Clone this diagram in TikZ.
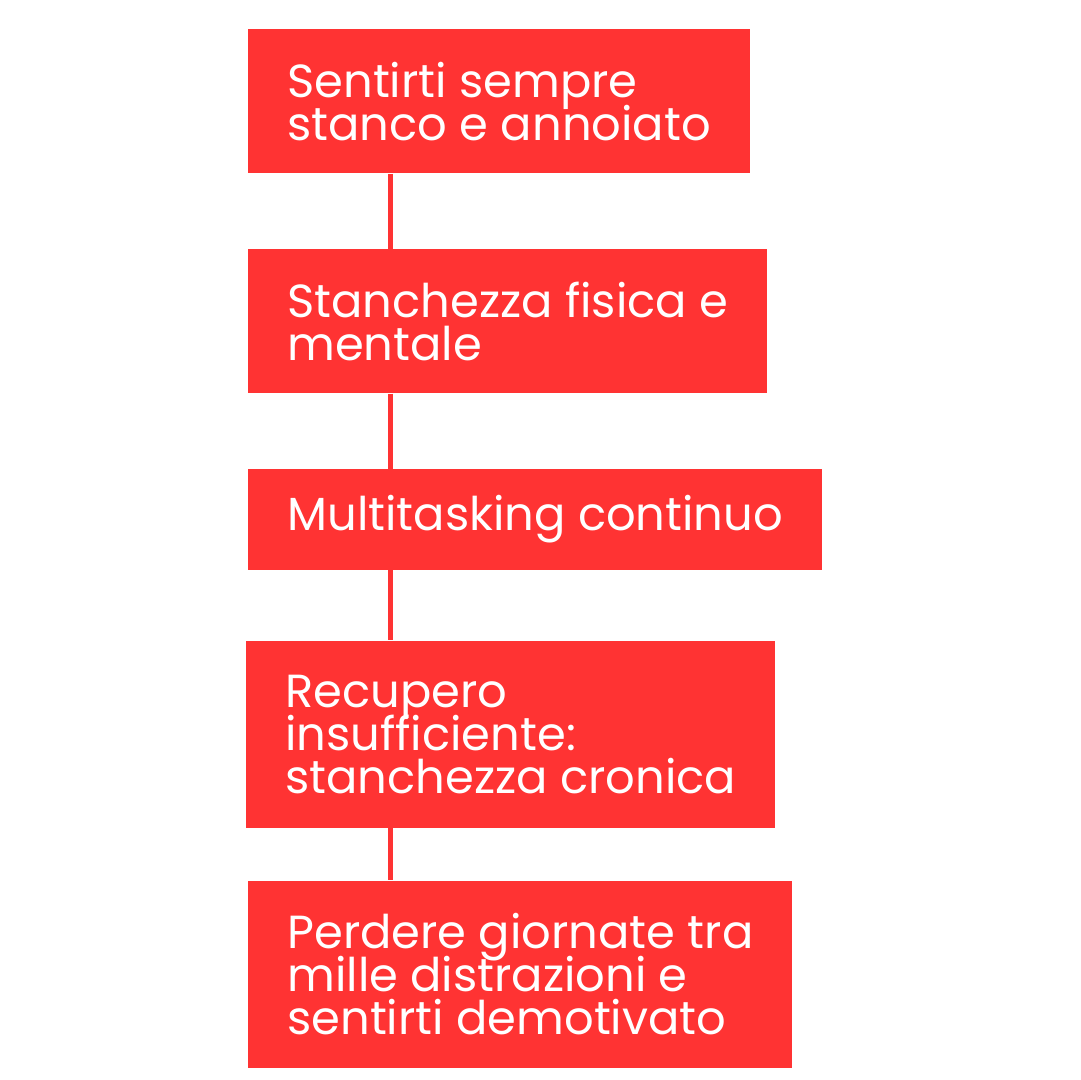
\documentclass[tikz,border=0pt]{standalone}
\usepackage{fontspec}
\setmainfont{Poppins}
\usetikzlibrary{positioning}
\definecolor{boxred}{RGB}{255,51,51}
\newcommand\tightlines{\lineskiplimit=-100pt\relax}
\tikzset{
  stepbox/.style ={fill=boxred, text=white, align=left, anchor=north west,
                   font=\fontsize{23.2pt}{21.5pt}\selectfont\tightlines,
                   inner xsep=19.5pt, inner ysep=0pt},
  link/.style    ={draw=boxred, line width=2.5pt},
}

\begin{document}
\begin{tikzpicture}
\useasboundingbox[fill=white] (0,0) rectangle (540pt,-540pt);
\node[stepbox,minimum height=72pt] (stanco) at (124pt,-14.5pt)
  {Sentirti sempre\\stanco e annoiato};
\node[stepbox,minimum height=72pt,below=37.5pt of stanco.south west,anchor=north west] (fisica)
  {Stanchezza fisica e\\mentale};
\node[stepbox,minimum height=50.5pt,below=37.5pt of fisica.south west,anchor=north west] (multi)
  {Multitasking continuo};
\node[stepbox,minimum height=93.5pt,below=35pt of multi.south west,anchor=north west,xshift=-1pt] (recupero)
  {Recupero\\insufficiente:\\stanchezza cronica};
\node[stepbox,minimum height=93.5pt,below=26pt of recupero.south west,anchor=north west,xshift=1pt] (perdere)
  {Perdere giornate tra\\mille distrazioni e\\sentirti demotivato};

% connectors
\draw[link] ([xshift=71pt]stanco.south west) -- ([xshift=71pt]fisica.north west);
\draw[link] ([xshift=71pt]fisica.south west) -- ([xshift=71pt]multi.north west);
\draw[link] ([xshift=71pt]multi.south west) -- ([xshift=72pt]recupero.north west);
\draw[link] ([xshift=72pt]recupero.south west) -- ([xshift=71pt]perdere.north west);
\end{tikzpicture}
\end{document}
